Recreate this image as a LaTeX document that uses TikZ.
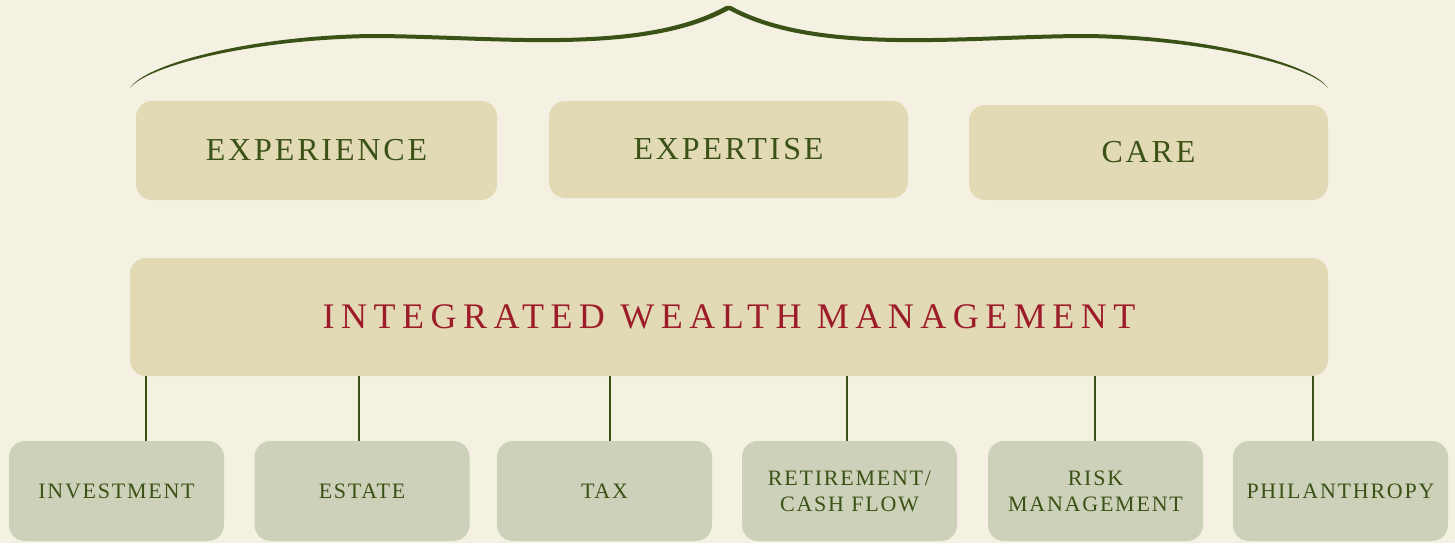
\documentclass[tikz,border=0pt]{standalone}
\usepackage{fontspec}
\setmainfont{Liberation Serif}
\usepackage{xcolor}
\definecolor{paper}{HTML}{F4F1E3}
\definecolor{sand}{HTML}{E2D9B5}
\definecolor{sage}{HTML}{CDD1B9}
\definecolor{leaf}{HTML}{3B5216}
\definecolor{wine}{HTML}{9C1C2A}
\tikzset{
  pillar/.style={fill=sand, rounded corners=16pt, text=leaf, inner sep=0pt,
    font=\fontsize{32}{36}\selectfont\addfontfeature{LetterSpace=9}},
  service/.style={fill=sage, rounded corners=16pt, text=leaf, inner sep=0pt,
    minimum width=215pt, minimum height=100pt, align=center,
    font=\fontsize{22}{26}\selectfont\addfontfeature{LetterSpace=8}},
  link/.style={draw=leaf, line width=2pt}
}

\begin{document}
\begin{tikzpicture}[x=1pt, y=-1pt]
    \fill[paper] (0,0) rectangle (1455,543);
    \useasboundingbox (0,0) rectangle (1455,543);
    \clip (0,0) rectangle (1455,543);

    % brace over the three pillars
    \fill[leaf] (130,88) .. controls (145,64) and (250,36) .. (370,34)
        .. controls (490,34) and (640,54) .. (726,6) -- (731,6)
        .. controls (818,54) and (968,34) .. (1088,34)
        .. controls (1208,36) and (1313,64) .. (1328,88)
        .. controls (1311,66) and (1208,40) .. (1088,38)
        .. controls (968,38) and (818,58) .. (729,10)
        .. controls (640,58) and (490,38) .. (370,38)
        .. controls (250,40) and (147,66) .. (130,88) -- cycle;

    \node[pillar, minimum width=361pt, minimum height=99pt] (experience) at (316.5,150.5) {EXPERIENCE};
    \node[pillar, minimum width=359pt, minimum height=97pt] (expertise) at (728.5,149.5) {EXPERTISE};
    \node[pillar, minimum width=359pt, minimum height=95pt] (care) at (1148.5,152.5) {CARE};

    \node[fill=sand, rounded corners=16pt, text=wine, inner sep=0pt,
          minimum width=1198pt, minimum height=118pt,
          font=\fontsize{36}{40}\selectfont\addfontfeature{LetterSpace=18}]
        (iwm) at (729,317) {INTEGRATED WEALTH MANAGEMENT};

    \node[service] (investment) at (116.5,491) {INVESTMENT};
    \node[service] (estate) at (362,491) {ESTATE};
    \node[service] (tax) at (604.5,491) {TAX};
    \node[service] (retirement) at (849.5,491) {RETIREMENT/\\CASH FLOW};
    \node[service] (risk) at (1095.5,491) {RISK\\MANAGEMENT};
    \node[service] (philanthropy) at (1340.5,491) {PHILANTHROPY};

    \draw[link] ([xshift=29.5pt]investment.north) -- ([xshift=29.5pt]investment.north |- iwm.south);
    \draw[link] ([xshift=-3pt]estate.north) -- ([xshift=-3pt]estate.north |- iwm.south);
    \draw[link] ([xshift=5.5pt]tax.north) -- ([xshift=5.5pt]tax.north |- iwm.south);
    \draw[link] ([xshift=-2.5pt]retirement.north) -- ([xshift=-2.5pt]retirement.north |- iwm.south);
    \draw[link] ([xshift=-0.5pt]risk.north) -- ([xshift=-0.5pt]risk.north |- iwm.south);
    \draw[link] ([xshift=-27.5pt]philanthropy.north) -- ([xshift=-27.5pt]philanthropy.north |- iwm.south);
\end{tikzpicture}
\end{document}
